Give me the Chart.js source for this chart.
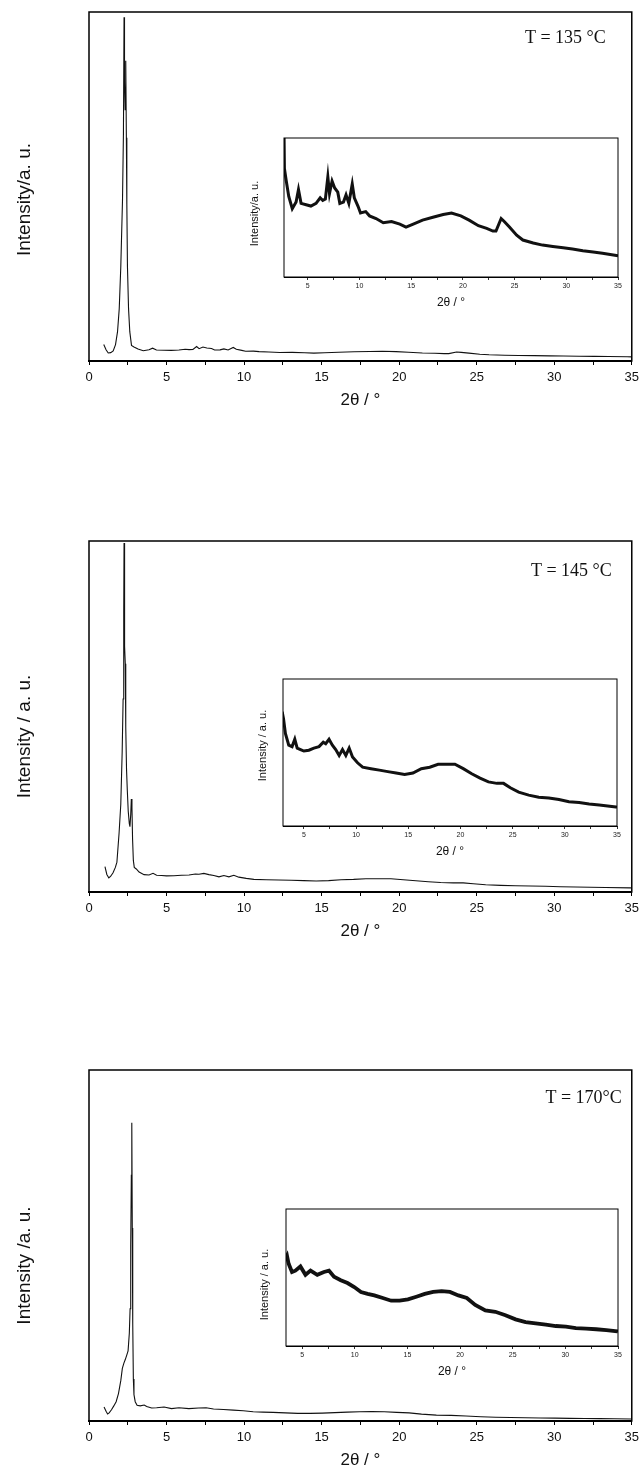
<!DOCTYPE html>
<html>
<head>
<meta charset="utf-8">
<script src="https://cdn.jsdelivr.net/npm/chart.js@4.4.1/dist/chart.umd.min.js"></script>
<style>
html, body { margin: 0; padding: 0; background: #fff; }
#page { position: relative; width: 644px; height: 1476px; overflow: hidden; background: #fff; }
#page canvas { position: absolute; }
</style>
</head>
<body>
<div id="page"></div>
<script>
// 2θ (deg) and intensity (% of main frame height)
const theta135 = [0.95, 1.1, 1.24, 1.4, 1.56, 1.71, 1.84, 1.95, 2.05, 2.16, 2.22, 2.26, 2.29, 2.33, 2.37, 2.41, 2.44, 2.48, 2.55, 2.63,
    2.74, 2.9, 3.16, 3.5, 3.87, 4.1, 4.35, 4.84, 5.3, 5.8, 6.2, 6.45, 6.7, 6.94, 7.1, 7.35, 7.6, 7.9, 8.1, 8.45,
    8.7, 8.97, 9.3, 9.5, 9.85, 10.1, 10.6, 10.97, 11.6, 12.3, 13.1, 13.9, 14.5, 15.2, 16.1, 17.1, 18.1, 18.9, 19.8, 20.6,
    21.5, 22.3, 22.9, 23.2, 23.7, 24.0, 24.5, 25.2, 25.8, 26.8, 27.7, 28.7, 29.7, 30.6, 31.6, 32.6, 33.5, 34.7, 35];
const int135 = [4.7, 3.2, 2.3, 2.4, 2.9, 4.7, 8.4, 15, 27, 46, 65, 98.5, 80, 72, 86, 64, 45, 27, 15, 8.4,
    4.46, 4.04, 3.41, 2.95, 3.20, 3.67, 3.15, 3.10, 3.05, 3.15, 3.36, 3.26, 3.31, 4.15, 3.52, 3.99, 3.73, 3.57, 3.15, 3.20,
    3.47, 3.15, 3.88, 3.36, 3.05, 2.79, 2.84, 2.68, 2.58, 2.42, 2.47, 2.37, 2.26, 2.37, 2.52, 2.63, 2.73, 2.79, 2.68, 2.52,
    2.31, 2.21, 2.11, 2.11, 2.58, 2.47, 2.26, 1.95, 1.77, 1.66, 1.58, 1.53, 1.48, 1.43, 1.37, 1.32, 1.27, 1.20, 1.18];

const theta145 = [1.03, 1.15, 1.28, 1.4, 1.55, 1.7, 1.8, 1.94, 2.05, 2.14, 2.2, 2.24, 2.26, 2.28, 2.31, 2.34, 2.37, 2.42, 2.47, 2.53,
    2.6, 2.64, 2.69, 2.73, 2.77, 2.81, 2.86, 2.92,
    3.05, 3.23, 3.55, 3.87, 4.13, 4.36, 4.68, 5.0, 5.48, 5.96, 6.45, 6.86, 7.09, 7.41, 7.73, 8.05, 8.38, 8.7, 9.02, 9.34,
    9.66, 10.14, 10.63, 11.43, 12.23, 13.04, 13.84, 14.65, 15.45, 16.25, 17.06, 17.86, 18.67, 19.47, 20.27, 21.08, 21.88, 22.68, 23.49, 24.13,
    24.78, 25.58, 26.54, 27.5, 28.47, 29.44, 30.4, 31.37, 32.33, 33.3, 34.9, 35];
const int145 = [7.2, 5.0, 4.0, 4.5, 5.5, 7.0, 8.5, 16.8, 25, 40, 55, 80, 99.4, 85, 70, 65, 47, 35, 29, 23,
    19.5, 18.6, 22, 26.5, 24, 15, 9, 7,
    6.57, 5.67, 4.95, 4.86, 5.31, 4.77, 4.68, 4.59, 4.64, 4.77, 4.86, 5.13, 5.04, 5.31, 4.95, 4.68, 4.32, 4.68, 4.32, 4.77,
    4.23, 3.87, 3.60, 3.51, 3.42, 3.33, 3.24, 3.15, 3.24, 3.51, 3.60, 3.78, 3.78, 3.78, 3.51, 3.20, 2.93, 2.70, 2.61, 2.61,
    2.34, 2.07, 1.89, 1.76, 1.71, 1.62, 1.49, 1.44, 1.35, 1.29, 1.17, 1.15];

const theta170 = [0.97, 1.1, 1.2, 1.3, 1.45, 1.6, 1.75, 1.9, 2.05, 2.15, 2.25, 2.34, 2.45, 2.52, 2.6, 2.65, 2.69, 2.73, 2.76, 2.79,
    2.82, 2.86, 2.9, 2.98, 3.1, 3.3,
    3.56, 3.72, 4.04, 4.36, 4.84, 5.32, 5.8, 6.44, 7.07, 7.55, 8.03, 8.67, 9.31, 9.95, 10.59, 11.22, 11.86, 12.66, 13.46, 14.26,
    15.05, 15.85, 16.65, 17.45, 18.25, 19.04, 19.84, 20.64, 21.44, 22.4, 23.35, 24.31, 25.27, 26.22, 27.18, 28.14, 29.1, 30.05, 31.0, 31.97,
    32.93, 33.89, 34.94, 35];
const int170 = [4.0, 2.8, 2.0, 2.3, 3.2, 4.3, 5.5, 7.8, 11.5, 15.0, 16.5, 17.5, 19, 20, 25, 32, 50, 70, 85, 55,
    28, 12, 7.5, 5.5, 4.5, 4.3,
    4.55, 4.12, 3.69, 3.76, 3.98, 3.54, 3.76, 3.54, 3.69, 3.76, 3.44, 3.26, 3.11, 2.90, 2.64, 2.54, 2.46, 2.32, 2.18, 2.18,
    2.25, 2.39, 2.54, 2.64, 2.68, 2.64, 2.46, 2.32, 1.96, 1.67, 1.60, 1.42, 1.20, 1.06, 0.99, 0.92, 0.85, 0.82, 0.74, 0.71,
    0.68, 0.63, 0.57, 0.56];

const tempLabels = ['T = 135 °C', 'T = 145 °C', 'T = 170°C'];
const xTitle = '2θ / °';

const SANS = '"Liberation Sans", Arial, sans-serif';
const SERIF = '"Liberation Serif", "Times New Roman", serif';

// frame positions of each panel and of its inset (page pixels)
const panels = [
    { theta: theta135, counts: int135, label: tempLabels[0], top: 12, bottom: 361, yTitle: 'Intensity/a. u.', yShift: 13, tx: -26, ty: 26,
      inset: { left: 284, top: 138, right: 618, bottom: 277, xMin: 2.7, yMin: 0.38, yMax: 5.61, yTitle: 'Intensity/a. u.', dx: -29, dy: 6, lw: 3 } },
    { theta: theta145, counts: int145, label: tempLabels[1], top: 541, bottom: 892, yTitle: 'Intensity / a. u.', yShift: 20, tx: -20, ty: 30,
      inset: { left: 283, top: 679, right: 617, bottom: 826, xMin: 3.0, yMin: 0, yMax: 9, yTitle: 'Intensity / a. u.', dx: -20, dy: -7, lw: 3 } },
    { theta: theta170, counts: int170, label: tempLabels[2], top: 1070, bottom: 1421, yTitle: 'Intensity /a. u.', yShift: 20, tx: -10, ty: 28,
      inset: { left: 286, top: 1209, right: 618, bottom: 1346, xMin: 3.47, yMin: -0.2, yMax: 7.0, yTitle: 'Intensity / a. u.', dx: -21, dy: 7, lw: 3.8 } }
];

// box round the plot area
const frameBox = {
    id: 'frameBox',
    afterDraw(chart, args, opts) {
        const { ctx, chartArea: a } = chart;
        ctx.save();
        ctx.strokeStyle = '#000';
        ctx.lineWidth = opts.width || 1;
        ctx.strokeRect(a.left, a.top, a.right - a.left, a.bottom - a.top);
        ctx.restore();
    }
};

// rotated y title and the temperature note
const sideText = {
    id: 'sideText',
    afterDraw(chart, args, opts) {
        const { ctx, chartArea: a } = chart;
        ctx.save();
        ctx.fillStyle = '#111';
        if (opts.yTitle) {
            ctx.save();
            ctx.translate(a.left + opts.dx, (a.top + a.bottom) / 2 + opts.dy);
            ctx.rotate(-Math.PI / 2);
            ctx.font = opts.yFont;
            ctx.textAlign = 'center';
            ctx.textBaseline = 'middle';
            ctx.fillText(opts.yTitle, 0, 0);
            ctx.restore();
        }
        if (opts.note) {
            ctx.font = '18px ' + SERIF;
            ctx.textAlign = 'right';
            ctx.textBaseline = 'middle';
            ctx.fillText(opts.note, a.right + opts.tx, a.top + opts.ty);
        }
        ctx.restore();
    }
};

const page = document.getElementById('page');

function addCanvas(left, top, w, h) {
    const cv = document.createElement('canvas');
    cv.width = w;
    cv.height = h;
    cv.style.left = left + 'px';
    cv.style.top = top + 'px';
    cv.style.width = w + 'px';
    cv.style.height = h + 'px';
    page.appendChild(cv);
    return cv.getContext('2d');
}

function points(p) {
    return p.theta.map((t, i) => ({ x: t, y: p.counts[i] }));
}

const fifths = v => (Math.abs(v % 5) < 1e-6 ? v : '');

function mainChart(p) {
    const ctx = addCanvas(0, p.top - 10, 644, p.bottom - p.top + 10 + 62);
    return new Chart(ctx, {
        type: 'line',
        data: {
            datasets: [{
                data: points(p),
                borderColor: '#111',
                borderWidth: 1.1,
                pointRadius: 0,
                tension: 0
            }]
        },
        options: {
            responsive: false,
            animation: false,
            events: [],
            layout: { padding: { left: 89, right: 9, top: 10, bottom: 0 } },
            plugins: {
                legend: { display: false },
                tooltip: { enabled: false },
                frameBox: { width: 1.5 },
                sideText: { yTitle: p.yTitle, yFont: '19px ' + SANS, dx: -64, dy: p.yShift, note: p.label, tx: p.tx, ty: p.ty }
            },
            scales: {
                x: {
                    type: 'linear',
                    min: 0,
                    max: 35,
                    afterFit: s => { s.height = 62; },
                    ticks: {
                        stepSize: 2.5,
                        autoSkip: false,
                        maxRotation: 0,
                        padding: 5,
                        color: '#111',
                        font: { family: SANS, size: 13 },
                        callback: fifths
                    },
                    grid: { drawOnChartArea: false, drawTicks: true, tickLength: 4, color: '#000', lineWidth: 1 },
                    border: { display: true, color: '#000', width: 2 },
                    title: { display: true, text: xTitle, color: '#111', font: { family: SANS, size: 17 }, padding: { top: 0, bottom: 12 } }
                },
                y: { display: false, min: 0, max: 100 }
            }
        },
        plugins: [frameBox, sideText]
    });
}

function insetChart(p) {
    const q = p.inset;
    const ctx = addCanvas(q.left - 45, q.top - 8, q.right - q.left + 55, q.bottom - q.top + 44);
    return new Chart(ctx, {
        type: 'line',
        data: {
            datasets: [{
                data: points(p),
                borderColor: '#111',
                borderWidth: q.lw,
                pointRadius: 0,
                tension: 0
            }]
        },
        options: {
            responsive: false,
            animation: false,
            events: [],
            layout: { padding: { left: 45, right: 10, top: 8, bottom: 0 } },
            plugins: {
                legend: { display: false },
                tooltip: { enabled: false },
                frameBox: { width: 1 },
                sideText: { yTitle: q.yTitle, yFont: '11px ' + SANS, dx: q.dx, dy: q.dy }
            },
            scales: {
                x: {
                    type: 'linear',
                    min: q.xMin,
                    max: 35,
                    afterFit: s => { s.height = 36; },
                    ticks: {
                        stepSize: 2.5,
                        includeBounds: false,
                        autoSkip: false,
                        maxRotation: 0,
                        padding: 2,
                        color: '#222',
                        font: { family: SANS, size: 7 },
                        callback: fifths
                    },
                    grid: { drawOnChartArea: false, drawTicks: true, tickLength: 3, color: '#000', lineWidth: 0.8 },
                    border: { display: true, color: '#000', width: 1 },
                    title: { display: true, text: xTitle, color: '#111', font: { family: SANS, size: 12 }, padding: { top: 0, bottom: 3 } }
                },
                y: { display: false, min: q.yMin, max: q.yMax }
            }
        },
        plugins: [frameBox, sideText]
    });
}

panels.forEach(p => {
    mainChart(p);
    insetChart(p);
});
</script>
</body>
</html>
